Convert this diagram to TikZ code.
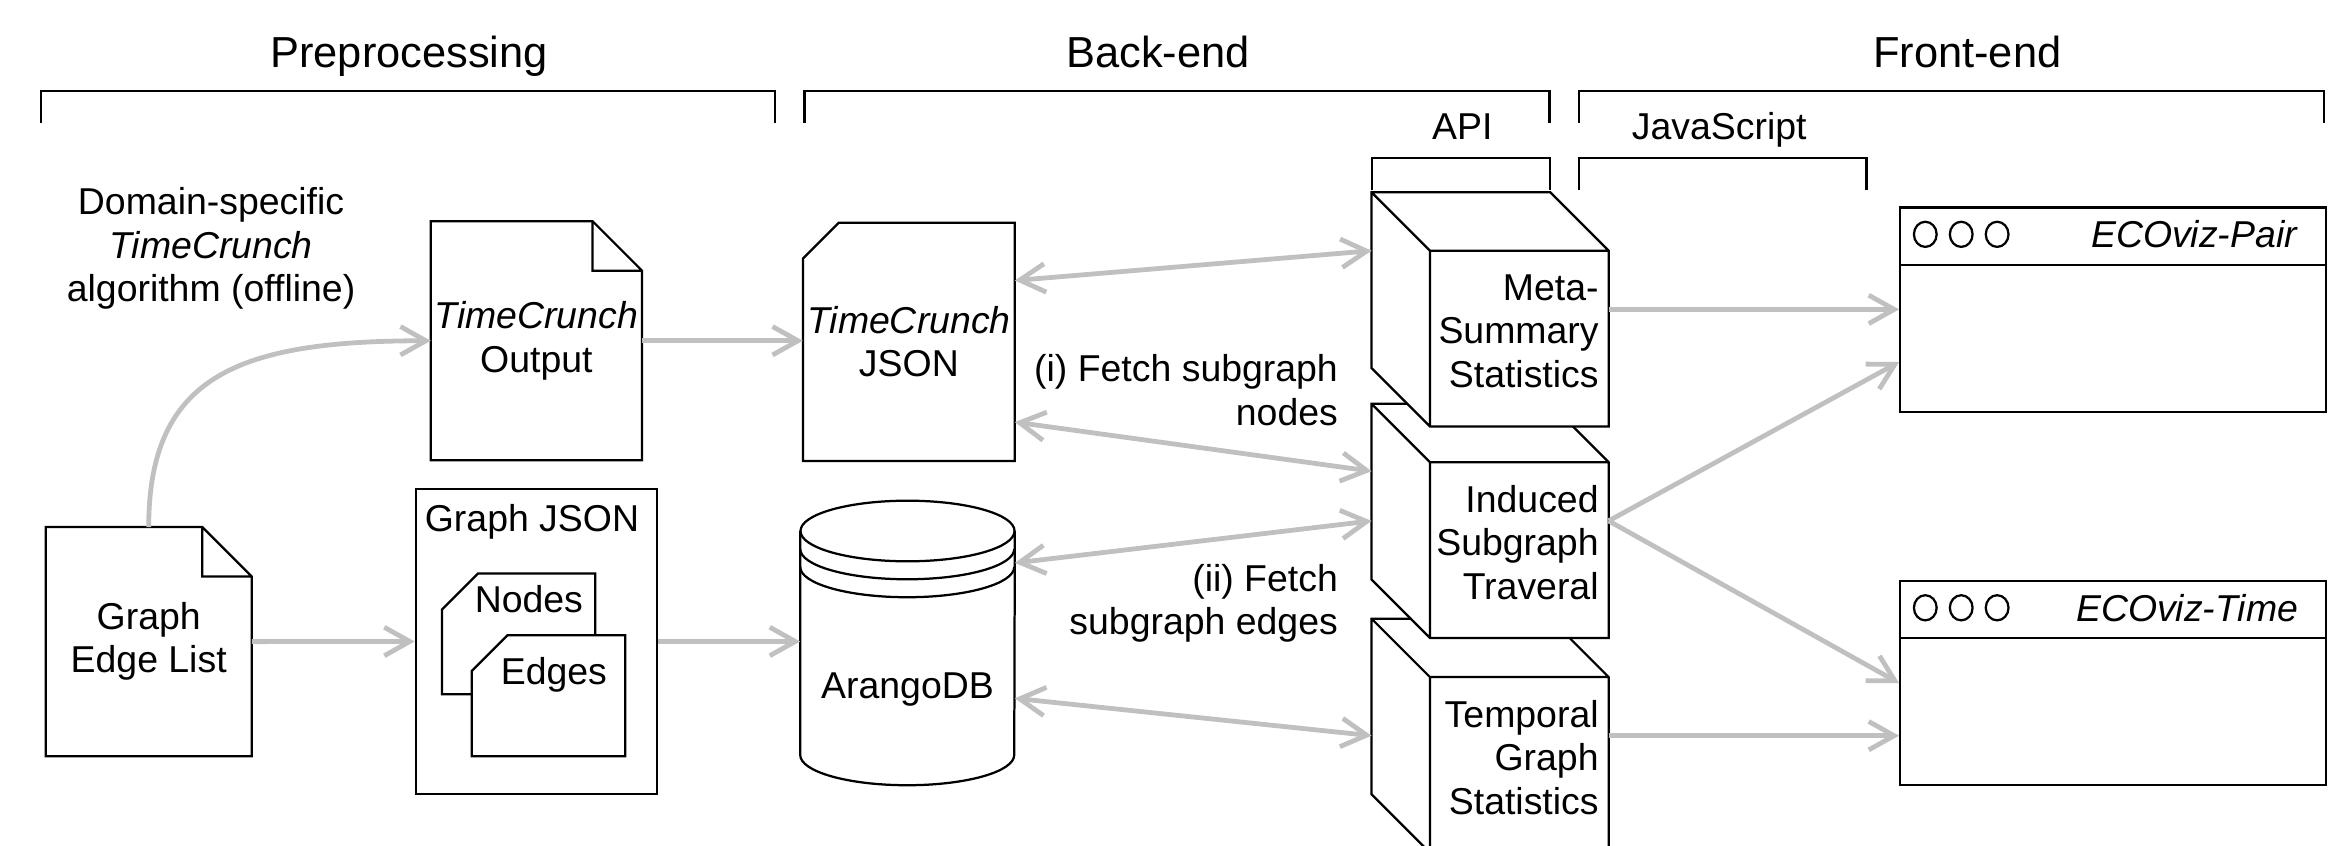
\documentclass[tikz,border=0pt]{standalone}
\usepackage{fontspec}
\setmainfont{Liberation Sans}
\usetikzlibrary{arrows.meta,positioning,calc,backgrounds}
\definecolor{flowgray}{RGB}{192,192,192}

\begin{document}
\begin{tikzpicture}[x=1pt,y=-1pt,
        every node/.style={inner sep=0pt, font=\fontsize{25}{29}\selectfont},
        title/.style={font=\fontsize{29}{35}\selectfont, anchor=base},
        doc/.style 2 args={minimum width=#1, minimum height=#2, align=center},
        outline/.style={draw=black, line width=1.5pt},
        flow/.style={draw=flowgray, line width=3.2pt, -{Straight Barb[length=17pt,width=19pt]}},
        biflow/.style={flow, {Straight Barb[length=17pt,width=19pt]}-{Straight Barb[length=17pt,width=19pt]}}]
            \useasboundingbox (0,0) rectangle (1568,565);

            \node[title] (pre) at (273.3,45) {Preprocessing};
            \node[title] (back) at (773.6,45) {Back-end};
            \node[title] (front) at (1314.3,45) {Front-end};
            \node[anchor=base] (api) at (977,93.5) {API};
            \node[anchor=base] (js) at (1148.6,93.5) {JavaScript};
            \draw[outline] (27.3,82) |- (518,60.6) -- (518,82);
            \draw[outline] (537.4,82) |- (1035.2,60.6) -- (1035.2,82);
            \draw[outline] (1055,82) |- (1552.8,60.6) -- (1552.8,82);
            \draw[outline] (916.5,127) |- (1035.5,105.5) -- (1035.5,127);
            \draw[outline] (1055,127) |- (1247,105.5) -- (1247,127);

            \node[align=center] (algo) at (141,166) {Domain-specific\\\textit{TimeCrunch}\\algorithm (offline)};
            \node[doc={137.3pt}{152.7pt}] (edgelist) at (99.35,428.65) {Graph\\Edge List};
            \node[doc={140.7pt}{159.3pt}] (tcout) at (358.35,227.65) {\textit{TimeCrunch}\\Output};
            \node[outline, minimum width=161.2pt, minimum height=203.7pt] (gjson) at (358.4,428.55) {};
            \node[below=11pt of gjson.north, xshift=-3pt] (gjlabel) {Graph JSON};
            \node[doc={102pt}{80.2pt}] (nodes) at (346.45,423.5) {};
            \node[doc={102.2pt}{80.4pt}] (edges) at (366.4,464.8) {};
            \node[anchor=base east] (nodestext) at ([xshift=-8pt,yshift=-26.3pt]nodes.north east) {Nodes};
            \node[anchor=base east] (edgestext) at ([xshift=-12pt,yshift=-33pt]edges.north east) {Edges};

            \node[doc={141.2pt}{158.8pt}] (tcjson) at (607.2,228.4) {\textit{TimeCrunch}\\JSON};
            \node[doc={143pt}{189.7pt}] (db) at (606.3,429.55) {};
            \node[anchor=base] (dbtext) at ([yshift=-37pt]db.center) {ArangoDB};
            \node[align=right, anchor=east] (fetchnodes) at (894,260.5) {(i) Fetch subgraph\\nodes};
            \node[align=right, anchor=east] (fetchedges) at (894,403) {(ii) Fetch\\subgraph edges};

            \foreach \cy/\cname/\ctext in {413.5/tempo/{Temporal\\Graph\\Statistics}, 270/induced/{Induced\\Subgraph\\Traveral}, 128.7/meta/{Meta-\\Summary\\Statistics}} {
                \node[minimum width=158pt, minimum height=156pt] (\cname) at (995.5,\cy+78) {};
                \node[align=right, anchor=east] (\cname-text) at ([xshift=-6.5pt,yshift=-14.5pt]\cname.east) {\ctext};
            }

            \foreach \wy/\wname/\wtitle in {206.85/pair/ECOviz-Pair, 456.35/time/ECOviz-Time} {
                \node[outline, minimum width=284.3pt, minimum height=136.5pt] (\wname) at (1411.65,\wy) {};
                \draw[outline] ([yshift=-39pt]\wname.north west) -- ([yshift=-39pt]\wname.north east);
                \foreach \k in {0,1,2}
                    \draw[outline] ([xshift={17.5pt+\k*24pt},yshift=-18.7pt]\wname.north west) ellipse [x radius=7.6pt, y radius=8.4pt];
                \node[anchor=east] (\wname-title) at ([xshift=-19pt,yshift=-18.7pt]\wname.north east) {\textit{\wtitle}};
            }

            \begin{scope}[on background layer]
                \foreach \d in {edgelist,tcout}
                    \draw[outline] (\d.north west) -- ([xshift=-33pt]\d.north east) -- ([yshift=-33pt]\d.north east) -- (\d.south east) -- (\d.south west) -- cycle
                        ([xshift=-33pt]\d.north east) |- ([yshift=-33pt]\d.north east);
                \foreach \c in {nodes,edges,tcjson}
                    \filldraw[outline, fill=white] ([xshift=24pt]\c.north west) -- (\c.north east) -- (\c.south east) -- (\c.south west) -- ([yshift=-24pt]\c.north west) -- cycle;
                \draw[outline] ([yshift=-20.25pt]db.north) ellipse [x radius=71.5pt, y radius=20.25pt];
                \draw[outline] ([yshift=-20.25pt]db.north west) -- ([yshift=20.25pt]db.south west) arc [start angle=180, end angle=360, x radius=71.5pt, y radius=20.25pt] -- ([yshift=-20.25pt]db.north east);
                \foreach \b in {12,24}
                    \draw[outline] ([yshift={-20.25pt-\b pt}]db.north west) arc [start angle=180, end angle=360, x radius=71.5pt, y radius=20.25pt];
                \foreach \c in {tempo,induced,meta}
                    \filldraw[outline, fill=white] (\c.north west) -- ([xshift=-39pt]\c.north east) -- ([yshift=-39pt]\c.north east) -- (\c.south east) -- ([xshift=39pt]\c.south west) -- ([yshift=39pt]\c.south west) -- cycle
                        (\c.north west) -- ([xshift=39pt,yshift=-39pt]\c.north west) -- ([xshift=39pt]\c.south west)
                        ([xshift=39pt,yshift=-39pt]\c.north west) -- ([yshift=-39pt]\c.north east);
            \end{scope}

            \draw[flow] (edgelist.north) .. controls +(0,-102) and +(-127,0) .. (tcout.west);
            \draw[flow] (tcout.east) -- (tcout.east -| tcjson.west);
            \draw[flow] (edgelist.east) -- (gjson.west);
            \draw[flow] (gjson.east) -- (gjson.east -| db.west);
            \draw[biflow] ([yshift=-38.6pt]tcjson.north east) -- ([yshift=-39pt]meta.north west);
            \draw[biflow] ([yshift=26pt]tcjson.south east) -- ([yshift=-45pt]induced.north west);
            \draw[biflow] ([yshift=-41.6pt]db.north east) -- (induced.west);
            \draw[biflow] ([yshift=-37pt]db.east) -- (tempo.west);
            \draw[flow] (meta.east) -- (meta.east -| pair.west);
            \draw[flow] (induced.east) -- ([yshift=-35pt]pair.west);
            \draw[flow] (induced.east) -- (time.west);
            \draw[flow] (tempo.east) -- (tempo.east -| time.west);
        \end{tikzpicture}
\end{document}
